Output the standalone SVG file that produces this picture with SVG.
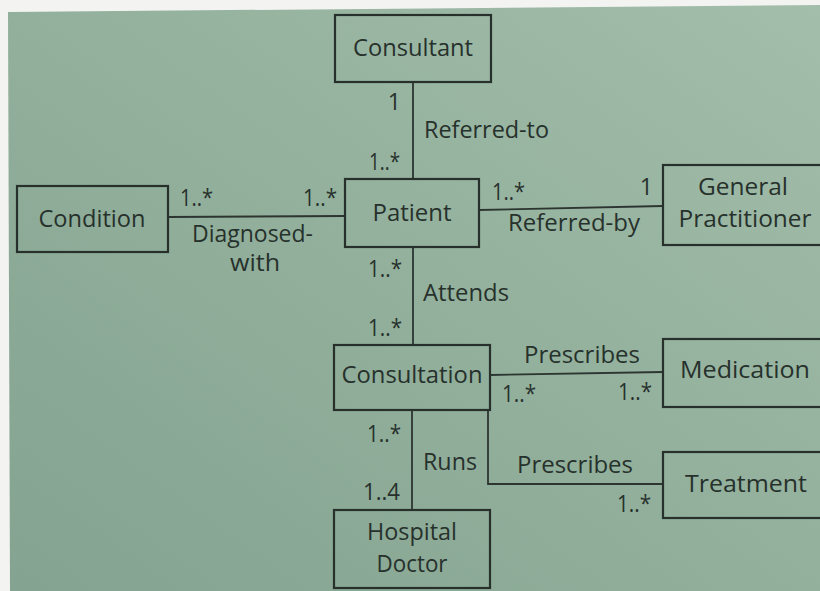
<svg xmlns="http://www.w3.org/2000/svg" width="820" height="591" viewBox="0 0 820 591">
  <style>
    .box { fill: none; stroke: #27302b; stroke-width: 2.2; }
    .conn { fill: none; stroke: #2c3530; stroke-width: 1.8; }
    text { font-family: "Open Sans", "Noto Sans", "DejaVu Sans", sans-serif; font-size: 23px; font-weight: 500; fill: #27312c; }
    .c { text-anchor: middle; }
    .e { text-anchor: end; }
  </style>
  <defs>
    <linearGradient id="page" x1="0" y1="1" x2="1" y2="0">
      <stop offset="0" stop-color="#84a390"/>
      <stop offset="0.5" stop-color="#92b09c"/>
      <stop offset="1" stop-color="#a3beab"/>
    </linearGradient>
  </defs>

  <!-- page -->
  <rect x="0" y="0" width="820" height="591" fill="#f3f4f1"/>
  <polygon points="8,12 820,5 820,591 10,591" fill="url(#page)"/>

  <!-- associations -->
  <g id="connectors">
    <line class="conn" x1="413" y1="82" x2="413" y2="179"/>
    <line class="conn" x1="168" y1="217" x2="345" y2="216"/>
    <line class="conn" x1="479" y1="210" x2="663" y2="206"/>
    <line class="conn" x1="413" y1="247" x2="413" y2="345"/>
    <line class="conn" x1="490" y1="375" x2="663" y2="372"/>
    <polyline class="conn" points="488,410 488,484 663,484"/>
    <line class="conn" x1="412" y1="410" x2="412" y2="510"/>

    <!-- multiplicities and role names -->
    <text class="e" x="401" y="110">1</text>
    <text class="e" x="400" y="170" textLength="31" lengthAdjust="spacingAndGlyphs">1..*</text>
    <text x="424" y="138" textLength="125" lengthAdjust="spacingAndGlyphs">Referred-to</text>

    <text x="180" y="206" textLength="33" lengthAdjust="spacingAndGlyphs">1..*</text>
    <text x="303" y="206" textLength="34" lengthAdjust="spacingAndGlyphs">1..*</text>
    <text x="192" y="242" textLength="121" lengthAdjust="spacingAndGlyphs">Diagnosed-</text>
    <text class="c" x="255" y="271" textLength="50" lengthAdjust="spacingAndGlyphs">with</text>

    <text x="492" y="200" textLength="33" lengthAdjust="spacingAndGlyphs">1..*</text>
    <text class="e" x="653" y="195">1</text>
    <text x="508" y="231" textLength="132" lengthAdjust="spacingAndGlyphs">Referred-by</text>

    <text x="368" y="277" textLength="34" lengthAdjust="spacingAndGlyphs">1..*</text>
    <text x="423" y="301" textLength="86" lengthAdjust="spacingAndGlyphs">Attends</text>
    <text x="368" y="336" textLength="34" lengthAdjust="spacingAndGlyphs">1..*</text>

    <text x="524" y="363" textLength="116" lengthAdjust="spacingAndGlyphs">Prescribes</text>
    <text x="502" y="402" textLength="34" lengthAdjust="spacingAndGlyphs">1..*</text>
    <text x="618" y="400" textLength="34" lengthAdjust="spacingAndGlyphs">1..*</text>

    <text x="367" y="442" textLength="34" lengthAdjust="spacingAndGlyphs">1..*</text>
    <text x="423" y="470" textLength="54" lengthAdjust="spacingAndGlyphs">Runs</text>
    <text x="363" y="500" textLength="37" lengthAdjust="spacingAndGlyphs">1..4</text>

    <text x="517" y="473" textLength="116" lengthAdjust="spacingAndGlyphs">Prescribes</text>
    <text x="617" y="512" textLength="34" lengthAdjust="spacingAndGlyphs">1..*</text>
  </g>

  <!-- classes -->
  <g id="consultant">
    <rect class="box" x="335" y="15" width="156" height="67"/>
    <text class="c" x="413" y="56" textLength="120" lengthAdjust="spacingAndGlyphs">Consultant</text>
  </g>
  <g id="condition">
    <rect class="box" x="17" y="186" width="151" height="66"/>
    <text class="c" x="92" y="227" textLength="107" lengthAdjust="spacingAndGlyphs">Condition</text>
  </g>
  <g id="patient">
    <rect class="box" x="345" y="179" width="134" height="68"/>
    <text class="c" x="412" y="221" textLength="79" lengthAdjust="spacingAndGlyphs">Patient</text>
  </g>
  <g id="general-practitioner">
    <rect class="box" x="663" y="165" width="170" height="80"/>
    <text class="c" x="743" y="195" textLength="90" lengthAdjust="spacingAndGlyphs">General</text>
    <text class="c" x="745" y="227" textLength="133" lengthAdjust="spacingAndGlyphs">Practitioner</text>
  </g>
  <g id="consultation">
    <rect class="box" x="334" y="345" width="156" height="65"/>
    <text class="c" x="412" y="383" textLength="141" lengthAdjust="spacingAndGlyphs">Consultation</text>
  </g>
  <g id="medication">
    <rect class="box" x="663" y="339" width="170" height="68"/>
    <text class="c" x="745" y="378" textLength="130" lengthAdjust="spacingAndGlyphs">Medication</text>
  </g>
  <g id="treatment">
    <rect class="box" x="663" y="452" width="170" height="66"/>
    <text class="c" x="746" y="492" textLength="122" lengthAdjust="spacingAndGlyphs">Treatment</text>
  </g>
  <g id="hospital-doctor">
    <rect class="box" x="334" y="510" width="156" height="78"/>
    <text class="c" x="412" y="540" textLength="90" lengthAdjust="spacingAndGlyphs">Hospital</text>
    <text class="c" x="412" y="572" textLength="71" lengthAdjust="spacingAndGlyphs">Doctor</text>
  </g>
</svg>
